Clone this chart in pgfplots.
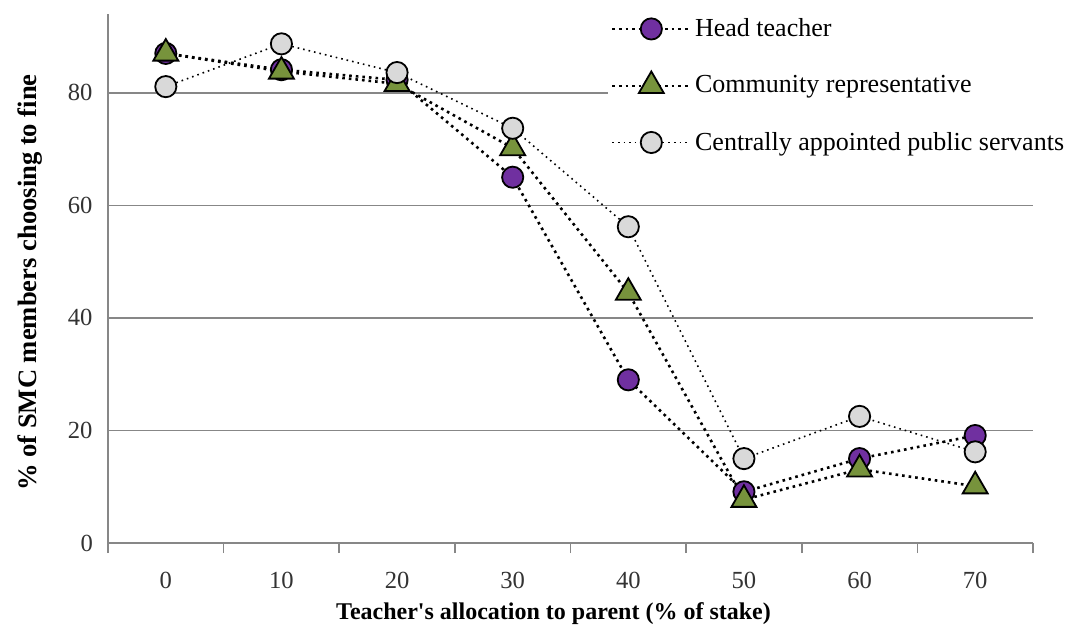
\documentclass[border=0pt]{standalone}
\usepackage{fontspec}
\setmainfont{Liberation Serif}
\usepackage{pgfplots}
\pgfplotsset{compat=1.18}

\definecolor{headpurple}{HTML}{7030A0}
\definecolor{commgreen}{HTML}{77933C}
\definecolor{servgray}{HTML}{D9D9D9}
\definecolor{axisgray}{HTML}{878787}

\begin{document}
\begin{tikzpicture}
\path[use as bounding box] (-54pt,-42.5pt) rectangle (478.5pt,271.5pt);
\begin{axis}[
  scale only axis,
  width=462.5pt, height=264.5pt,
  xmin=-0.5, xmax=7.5,
  ymin=0, ymax=94,
  axis lines*=left,
  axis line style={axisgray, line width=0.8pt},
  xtick={0,...,7},
  xticklabels={0,10,20,30,40,50,60,70},
  minor xtick={-0.5,0.5,...,7.5},
  major x tick style={draw=none},
  minor tick length=5pt,
  tick align=outside,
  x tick label style={yshift=-7pt},
  ytick={20,40,60,80},
  extra y ticks={0},
  extra y tick style={grid=none, major tick length=4pt, tick style={axisgray, line width=0.8pt}},
  ymajorgrids,
  major grid style={axisgray, line width=0.8pt},
  y tick style={draw=none},
  every tick/.style={axisgray, line width=0.8pt},
  ticklabel style={font=\fontsize{12.3}{14}\selectfont, text=black!80},
  /pgf/number format/assume math mode=true,
  xlabel={\textbf{Teacher\textquotesingle s allocation to parent (\% of stake)}},
  ylabel={\textbf{\% of SMC members choosing to fine}},
  xlabel style={font=\fontsize{12}{14}\selectfont, yshift=0pt, xshift=-8.5pt},
  ylabel style={font=\fontsize{13.3}{15}\selectfont, yshift=-2.5pt, xshift=-2pt},
  clip=false,
  legend cell align=left,
  legend style={at={(0.5396,1.0)}, anchor=north west, draw=none, fill=white,
    inner sep=2pt, yshift=2pt, row sep=14pt, font=\fontsize{13}{15}\selectfont,
    nodes={inner xsep=2pt}},
  legend image code/.code={
    \draw[mark repeat=2, mark phase=2, #1, line width=0.8pt] plot coordinates {(0pt,0pt) (19.5pt,0pt) (39pt,0pt)};
  },
]
\addplot[black, line width=1.3pt, dotted, mark=*, mark size=5.3pt,
  mark options={solid, fill=headpurple, draw=black, line width=0.9pt}]
  coordinates {(0,87.0) (1,84.1) (2,82.3) (3,65.0) (4,29.0) (5,9.1) (6,15.0) (7,19.1)};
\addlegendentry{Head teacher}
\addplot[black, line width=1.3pt, dotted, mark=triangle*, mark size=7.2pt,
  mark options={solid, fill=commgreen, draw=black, line width=0.9pt}]
  coordinates {(0,87.0) (1,83.8) (2,81.6) (3,70.2) (4,44.5) (5,7.7) (6,13.1) (7,10.1)};
\addlegendentry{Community representative}
\addplot[black, line width=0.8pt, dotted, mark=*, mark size=5.3pt,
  mark options={solid, fill=servgray, draw=black, line width=0.9pt}]
  coordinates {(0,81.1) (1,88.7) (2,83.6) (3,73.7) (4,56.2) (5,15.0) (6,22.5) (7,16.2)};
\addlegendentry{Centrally appointed public servants}
\end{axis}
\end{tikzpicture}
\end{document}
